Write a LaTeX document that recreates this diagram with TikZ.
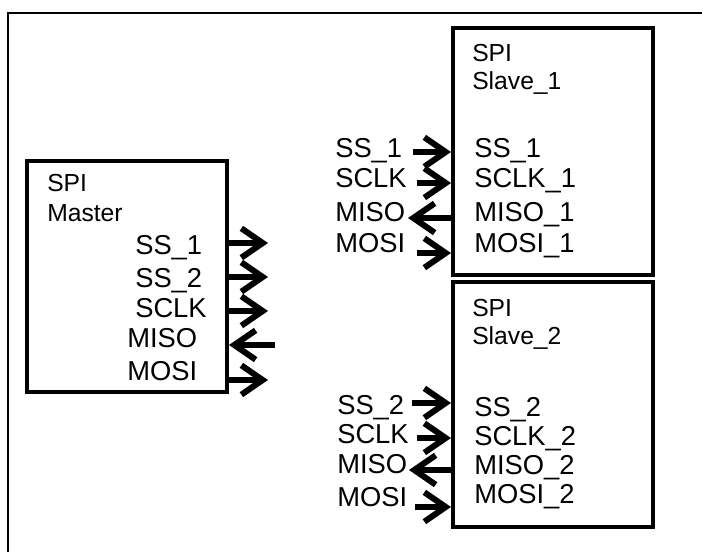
\documentclass[tikz,border=0pt]{standalone}
\usepackage{fontspec}
\setmainfont{Liberation Sans}
\usetikzlibrary{arrows.meta}
\newcommand{\pinsize}{\fontsize{20.5pt}{23pt}\selectfont}
\newcommand{\headsize}{\fontsize{18.5pt}{21pt}\selectfont}

\begin{document}
\begin{tikzpicture}[
    x=0.75pt, y=-0.75pt,
    box/.style={draw, line width=3pt, inner sep=0pt, minimum width=150pt},
    pin/.style={font=\pinsize, anchor=base west, inner sep=0pt},
    head/.style={font=\headsize, anchor=base west, inner sep=0pt},
    sig/.style={line width=3.8pt, -{Straight Barb[length=16pt, width=22pt, line width=4.5pt]}}
]
    \useasboundingbox (0,0) rectangle (702,552);
    \draw[line width=1pt] (8,552) -- (8,13) -- (702,13);

    % Master
    \node[box, minimum height=173.25pt] (master) at (127,276.5) {};
    \node[head] (mspi) at (47,192) {SPI};
    \node[head] (mname) at (47,222) {Master};
    \node[pin] (mss1) at (135,254) {SS\_1};
    \node[pin] (mss2) at (135,287) {SS\_2};
    \node[pin] (msclk) at (135,317) {SCLK};
    \node[pin] (mmiso) at (127,347) {MISO};
    \node[pin] (mmosi) at (127,380) {MOSI};

    \coordinate (mss1e) at (268,243);
    \coordinate (mss2e) at (268,277);
    \coordinate (msclke) at (268,311);
    \coordinate (mmisoe) at (275,345);
    \coordinate (mmosie) at (268,380);
    \draw[sig] (master.east |- mss1e) -- (mss1e);
    \draw[sig] (master.east |- mss2e) -- (mss2e);
    \draw[sig] (master.east |- msclke) -- (msclke);
    \draw[sig] (mmisoe) -- (master.east |- mmisoe);
    \draw[sig] (master.east |- mmosie) -- (mmosie);

    % Slave 1
    \node[box, minimum height=185.25pt] (slave1) at (553,151.5) {};
    \node[head] (aspi) at (472,62) {SPI};
    \node[head] (aname) at (472,90) {Slave\_1};
    \node[pin] (ass) at (474,158) {SS\_1};
    \node[pin] (asclk) at (474,188) {SCLK\_1};
    \node[pin] (amiso) at (474,222) {MISO\_1};
    \node[pin] (amosi) at (474,252) {MOSI\_1};
    \node[pin] (assx) at (335,158) {SS\_1};
    \node[pin] (asclkx) at (335,188) {SCLK};
    \node[pin] (amisox) at (335,222) {MISO};
    \node[pin] (amosix) at (335,252) {MOSI};

    \coordinate (asse) at (413,152);
    \coordinate (asclke) at (417,183);
    \coordinate (amisoe) at (408,218);
    \coordinate (amosie) at (417,253);
    \draw[sig] (asse) -- (slave1.west |- asse);
    \draw[sig] (asclke) -- (slave1.west |- asclke);
    \draw[sig] (slave1.west |- amisoe) -- (amisoe);
    \draw[sig] (amosie) -- (slave1.west |- amosie);

    % Slave 2
    \node[box, minimum height=183.75pt] (slave2) at (553,404.5) {};
    \node[head] (bspi) at (472,316) {SPI};
    \node[head] (bname) at (472,344) {Slave\_2};
    \node[pin] (bss) at (474,416) {SS\_2};
    \node[pin] (bsclk) at (474,445) {SCLK\_2};
    \node[pin] (bmiso) at (474,474) {MISO\_2};
    \node[pin] (bmosi) at (474,503) {MOSI\_2};
    \node[pin] (bssx) at (337,414) {SS\_2};
    \node[pin] (bsclkx) at (337,443) {SCLK};
    \node[pin] (bmisox) at (337,473) {MISO};
    \node[pin] (bmosix) at (337,506) {MOSI};

    \coordinate (bsse) at (412,403);
    \coordinate (bsclke) at (417,438);
    \coordinate (bmisoe) at (409,470);
    \coordinate (bmosie) at (415,507);
    \draw[sig] (bsse) -- (slave2.west |- bsse);
    \draw[sig] (bsclke) -- (slave2.west |- bsclke);
    \draw[sig] (slave2.west |- bmisoe) -- (bmisoe);
    \draw[sig] (bmosie) -- (slave2.west |- bmosie);
\end{tikzpicture}
\end{document}
